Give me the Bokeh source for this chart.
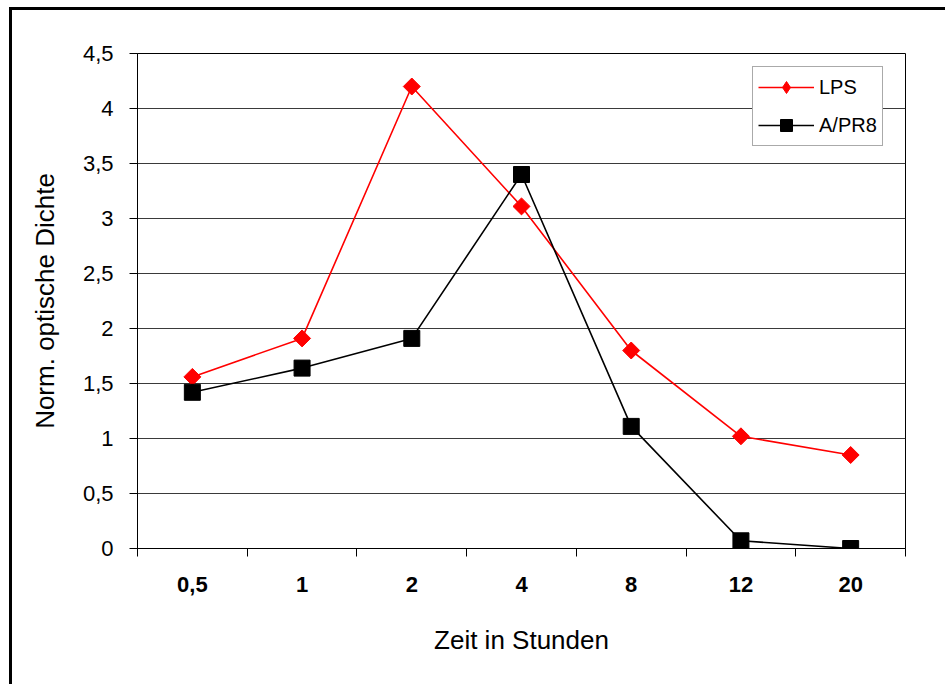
import numpy as np
from bokeh.plotting import figure
from bokeh.models import FixedTicker, Legend, LegendItem, Range1d, ColumnDataSource
from bokeh.embed import file_html
from bokeh.resources import INLINE

categories = ["0,5", "1", "2", "4", "8", "12", "20"]
lps = [1.56, 1.91, 4.2, 3.11, 1.8, 1.02, 0.85]
apr8 = [1.42, 1.64, 1.91, 3.4, 1.11, 0.07, 0.0]
y_ticks = [0, 0.5, 1, 1.5, 2, 2.5, 3, 3.5, 4, 4.5]
y_tick_labels = ["0", "0,5", "1", "1,5", "2", "2,5", "3", "3,5", "4", "4,5"]

FONT = "Liberation Sans"
xpos = [i + 0.5 for i in range(len(categories))]

src_lps = ColumnDataSource(dict(x=xpos, y=lps))
src_apr8 = ColumnDataSource(dict(x=xpos, y=apr8))
# source holding no visible point: used only to draw the legend's diamond symbol
src_legend = ColumnDataSource(dict(x=[np.nan], y=[np.nan]))

p = figure(frame_width=768, frame_height=495,
           min_border_left=125, min_border_top=43, min_border_right=40, min_border_bottom=136,
           output_backend="svg", toolbar_location=None,
           x_range=Range1d(0, len(categories)), y_range=Range1d(0, 4.5))
p.styles = {"border-left": "3px solid black", "border-top": "3px solid black",
            "margin-left": "9px", "margin-top": "7px"}
p.background_fill_color = "white"
p.border_fill_color = "white"
p.outline_line_color = "black"
p.outline_line_width = 1

# grid
p.xgrid.visible = False
p.ygrid.ticker = FixedTicker(ticks=y_ticks)
p.ygrid.grid_line_color = "#3a3a3a"
p.ygrid.grid_line_width = 1

# x axis
p.xaxis.ticker = FixedTicker(ticks=xpos, minor_ticks=list(range(len(categories) + 1)))
p.xaxis.major_label_overrides = {x: c for x, c in zip(xpos, categories)}
p.xaxis.major_tick_out = 0
p.xaxis.major_tick_in = 0
p.xaxis.minor_tick_out = 8
p.xaxis.minor_tick_in = 0
p.xaxis.minor_tick_line_color = "black"
p.xaxis.axis_line_color = "black"
p.xaxis.major_label_text_font = FONT
p.xaxis.major_label_text_font_style = "bold"
p.xaxis.major_label_text_font_size = "22px"
p.xaxis.major_label_text_color = "black"
p.xaxis.major_label_standoff = 20
p.xaxis.axis_label = "Zeit in Stunden"
p.xaxis.axis_label_text_font = FONT
p.xaxis.axis_label_text_font_style = "normal"
p.xaxis.axis_label_text_font_size = "26px"
p.xaxis.axis_label_text_color = "black"
p.xaxis.axis_label_standoff = 30

# y axis
p.yaxis.ticker = FixedTicker(ticks=y_ticks)
p.yaxis.major_label_overrides = {t: l for t, l in zip(y_ticks, y_tick_labels)}
p.yaxis.major_tick_out = 8
p.yaxis.major_tick_in = 0
p.yaxis.minor_tick_out = 0
p.yaxis.minor_tick_in = 0
p.yaxis.axis_line_color = "black"
p.yaxis.major_tick_line_color = "black"
p.yaxis.major_label_text_font = FONT
p.yaxis.major_label_text_font_size = "22px"
p.yaxis.major_label_text_color = "black"
p.yaxis.major_label_standoff = 16
p.yaxis.axis_label = "Norm. optische Dichte"
p.yaxis.axis_label_text_font = FONT
p.yaxis.axis_label_text_font_style = "normal"
p.yaxis.axis_label_text_font_size = "26px"
p.yaxis.axis_label_text_color = "black"
p.yaxis.axis_label_standoff = 20

# series
l1 = p.line("x", "y", source=src_lps, line_color="red", line_width=1.6)
m1 = p.scatter("x", "y", source=src_lps, marker="square", angle=np.pi / 4, size=12,
               fill_color="red", line_color="red")
l2 = p.line("x", "y", source=src_apr8, line_color="black", line_width=1.6)
m2 = p.scatter("x", "y", source=src_apr8, marker="square", size=16,
               fill_color="black", line_color="black")
d1 = p.scatter("x", "y", source=src_legend, marker="diamond", size=16,
               fill_color="red", line_color="red")

legend = Legend(items=[LegendItem(label="LPS", renderers=[l1, d1]),
                       LegendItem(label="A/PR8", renderers=[l2, m2])],
                location=(615, 402))
legend.glyph_width = 56
legend.glyph_height = 30
legend.label_height = 30
legend.spacing = 8
legend.padding = 5
legend.margin = 0
legend.label_standoff = 5
legend.label_text_font = FONT
legend.label_text_font_size = "20px"
legend.label_text_color = "black"
legend.border_line_color = "#555555"
legend.border_line_width = 1
legend.background_fill_color = "white"
legend.background_fill_alpha = 1
p.add_layout(legend, "center")

open("out.html", "w").write(file_html(p, INLINE))
